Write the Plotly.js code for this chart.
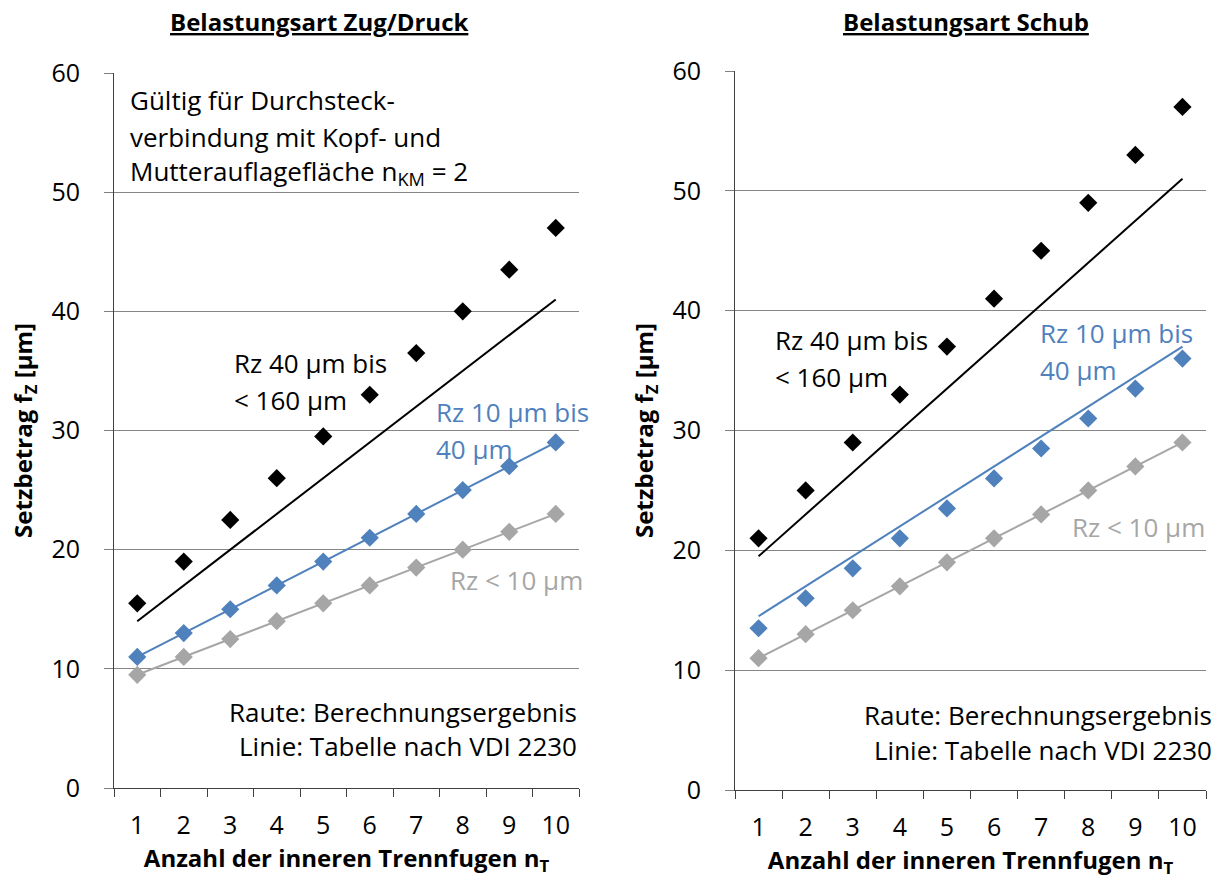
<!DOCTYPE html>
<html><head><meta charset="utf-8">
<script src="https://cdn.plot.ly/plotly-3.0.1.min.js"></script>
<style>body{margin:0;background:#fff}#chart{width:1220px;height:881px}</style>
</head><body><div id="chart"></div>
<script>
// ---- data ----
const categories = ['1','2','3','4','5','6','7','8','9','10'];
const yTicks = [0,10,20,30,40,50,60];

// Belastungsart Zug/Druck
const zugTableRz40_160 = [14,17,20,23,26,29,32,35,38,41];
const zugCalcRz40_160  = [15.5,19,22.5,26,29.5,33,36.5,40,43.5,47];
const zugTableRz10_40  = [11,13,15,17,19,21,23,25,27,29];
const zugCalcRz10_40   = [11,13,15,17,19,21,23,25,27,29];
const zugTableRzLt10   = [9.5,11,12.5,14,15.5,17,18.5,20,21.5,23];
const zugCalcRzLt10    = [9.5,11,12.5,14,15.5,17,18.5,20,21.5,23];

// Belastungsart Schub
const schubTableRz40_160 = [19.5,23,26.5,30,33.5,37,40.5,44,47.5,51];
const schubCalcRz40_160  = [21,25,29,33,37,41,45,49,53,57];
const schubTableRz10_40  = [14.5,17,19.5,22,24.5,27,29.5,32,34.5,37];
const schubCalcRz10_40   = [13.5,16,18.5,21,23.5,26,28.5,31,33.5,36];
const schubTableRzLt10   = [11,13,15,17,19,21,23,25,27,29];
const schubCalcRzLt10    = [11,13,15,17,19,21,23,25,27,29];

// ---- styling ----
const W = 1220, H = 881;
const FONT = '"Open Sans", "Noto Sans", sans-serif';
const BLACK = '#000000', BLUE = '#4F81BD', GRAY = '#A6A6A6';
const px = x => x / W;
const py = y => 1 - y / H;

function lineTrace(y, color, xa, ya) {
  return {x: categories, y: y, type: 'scatter', mode: 'lines',
    line: {color: color, width: 2}, xaxis: xa, yaxis: ya, hoverinfo: 'skip'};
}
function markTrace(y, color, xa, ya) {
  return {x: categories, y: y, type: 'scatter', mode: 'markers',
    marker: {symbol: 'diamond', size: 14, color: color}, xaxis: xa, yaxis: ya};
}

const traces = [
  lineTrace(zugTableRzLt10, GRAY, 'x', 'y'),
  markTrace(zugCalcRzLt10, GRAY, 'x', 'y'),
  lineTrace(zugTableRz10_40, BLUE, 'x', 'y'),
  markTrace(zugCalcRz10_40, BLUE, 'x', 'y'),
  lineTrace(zugTableRz40_160, BLACK, 'x', 'y'),
  markTrace(zugCalcRz40_160, BLACK, 'x', 'y'),
  lineTrace(schubTableRzLt10, GRAY, 'x2', 'y2'),
  markTrace(schubCalcRzLt10, GRAY, 'x2', 'y2'),
  lineTrace(schubTableRz10_40, BLUE, 'x2', 'y2'),
  markTrace(schubCalcRz10_40, BLUE, 'x2', 'y2'),
  lineTrace(schubTableRz40_160, BLACK, 'x2', 'y2'),
  markTrace(schubCalcRz40_160, BLACK, 'x2', 'y2')
];

const tickFont = {family: FONT, size: 25, color: '#000'};
const titleFont = {family: FONT, size: 24, color: '#000', weight: 'bold'};

function xAxis(domain, anchor) {
  return {domain: domain, anchor: anchor, type: 'category', range: [-0.5, 9.5],
    tickson: 'boundaries', ticks: 'outside', ticklen: 8, tickcolor: '#404040',
    showline: true, linecolor: '#404040', linewidth: 1, showgrid: false, zeroline: false,
    tickfont: tickFont, ticklabelstandoff: 15, fixedrange: true,
    title: {text: '<b>Anzahl der inneren Trennfugen n<sub>T</sub></b>', font: titleFont, standoff: 6}};
}
function yAxis(domain, anchor) {
  return {domain: domain, anchor: anchor, range: [0, 60], tickvals: yTicks,
    ticks: 'outside', ticklen: 9, tickcolor: '#7f7f7f',
    showline: true, linecolor: '#404040', linewidth: 1,
    showgrid: true, gridcolor: '#868686', gridwidth: 1, zeroline: false,
    tickfont: tickFont, ticklabelstandoff: 19, fixedrange: true,
    title: {text: '<b>Setzbetrag f<sub>Z</sub> [µm]</b>', font: titleFont, standoff: 12}};
}

function ann(text, x, y, anchor, color, size, extra) {
  return Object.assign({text: text, xref: 'paper', yref: 'paper', x: px(x), y: py(y),
    xanchor: anchor, yanchor: 'middle', showarrow: false, align: anchor === 'right' ? 'right' : 'left',
    font: {family: FONT, size: size || 26, color: color || '#000'}}, extra || {});
}

const annotations = [
  ann('<b><u>Belastungsart Zug/Druck</u></b>', 319, 22, 'center', '#000', 24),
  ann('<b><u>Belastungsart Schub</u></b>', 966, 22, 'center', '#000', 24),
  ann('Gültig für Durchsteck-', 128, 100, 'left'),
  ann('verbindung mit Kopf- und', 128, 137, 'left'),
  ann('Mutterauflagefläche n<sub>KM</sub> = 2', 128, 172, 'left'),
  ann('Rz 40 µm bis', 232, 363, 'left'),
  ann('< 160 µm', 232, 400, 'left'),
  ann('Rz 10 µm bis', 434, 412, 'left', BLUE),
  ann('40 µm', 434, 449, 'left', BLUE),
  ann('Rz < 10 µm', 448, 580, 'left', GRAY),
  ann('Raute: Berechnungsergebnis', 579, 712, 'right'),
  ann('Linie: Tabelle nach VDI 2230', 579, 746, 'right'),
  ann('Rz 40 µm bis', 773, 340, 'left'),
  ann('< 160 µm', 773, 377, 'left'),
  ann('Rz 10 µm bis', 1038, 333, 'left', BLUE),
  ann('40 µm', 1038, 370, 'left', BLUE),
  ann('Rz < 10 µm', 1070, 527, 'left', GRAY),
  ann('Raute: Berechnungsergebnis', 1214, 715, 'right'),
  ann('Linie: Tabelle nach VDI 2230', 1214, 750, 'right')
];

const layout = {
  width: W, height: H, margin: {l: 0, r: 0, t: 0, b: 0},
  paper_bgcolor: '#fff', plot_bgcolor: '#fff', showlegend: false,
  font: {family: FONT, color: '#000'},
  xaxis: xAxis([px(114), px(579)], 'y'),
  yaxis: yAxis([py(788), py(73)], 'x'),
  xaxis2: xAxis([px(735), px(1206)], 'y2'),
  yaxis2: yAxis([py(790), py(71)], 'x2'),
  annotations: annotations
};

Plotly.newPlot('chart', traces, layout, {displayModeBar: false, staticPlot: true});
</script>
</body></html>
